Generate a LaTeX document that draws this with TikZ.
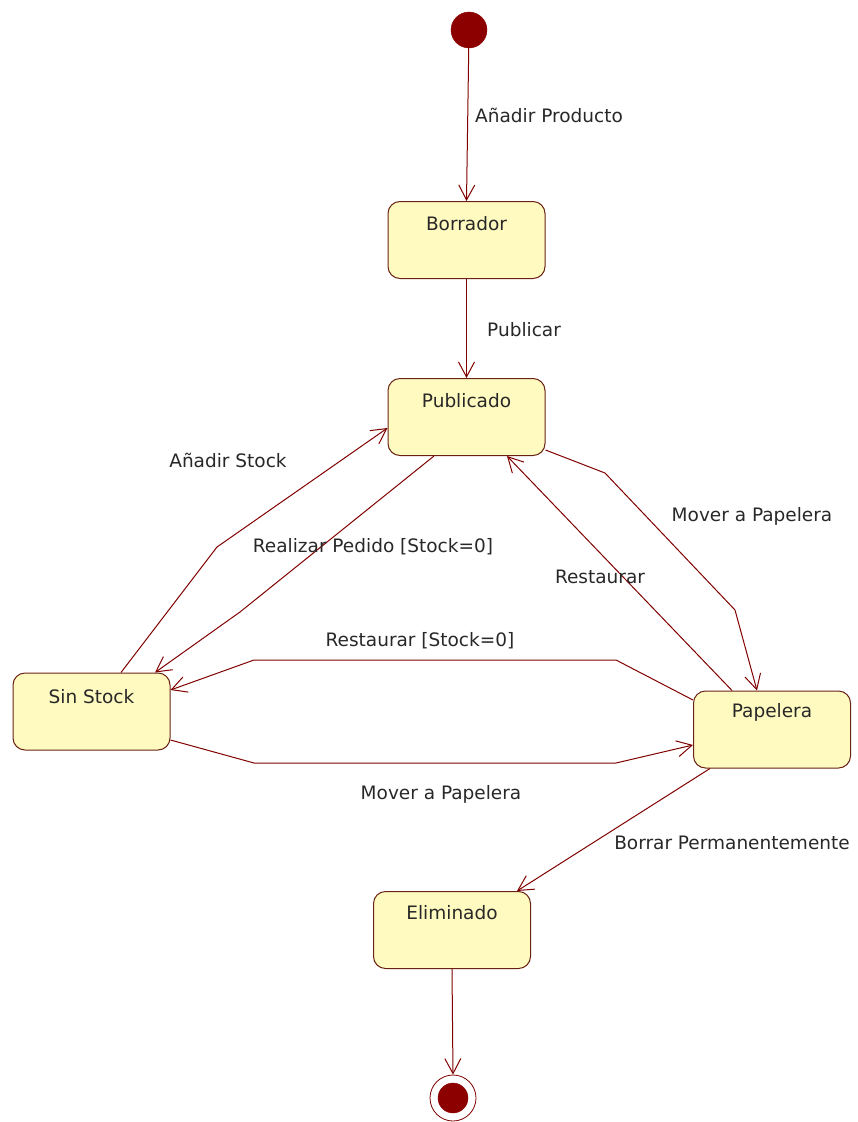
\documentclass[tikz,border=0pt]{standalone}
\usepackage{fontspec}
\setmainfont{DejaVu Sans}
\usetikzlibrary{arrows.meta}
\definecolor{edgecol}{RGB}{128,0,0}
\definecolor{boxline}{RGB}{105,35,20}
\definecolor{boxfill}{RGB}{255,250,192}
\definecolor{dotcol}{RGB}{140,0,0}
\definecolor{txtcol}{RGB}{40,40,40}
\tikzset{
  statebox/.style={draw=boxline, fill=boxfill, line width=1pt, rounded corners=12pt,
    minimum width=157pt, minimum height=77pt, inner sep=0pt},
  stxt/.style={text=txtcol, font=\fontsize{18.5}{22}\selectfont, inner sep=0pt},
  elabel/.style={text=txtcol, font=\fontsize{18.5}{22}\selectfont, inner sep=0pt},
  trans/.style={draw=edgecol, line width=1pt,
    -{Straight Barb[length=15pt,width=16pt,line width=1pt]}},
}
\begin{document}
\begin{tikzpicture}[x=1pt,y=-1pt]
\useasboundingbox (0,0) rectangle (858,1122);

% initial and final pseudo-states
\node[circle, fill=dotcol, draw=dotcol, minimum size=36pt, inner sep=0pt] (init) at (469,30) {};
\node[circle, draw=edgecol, line width=0.8pt, minimum size=46pt, inner sep=0pt] (fin) at (453,1098) {};
\node[circle, fill=dotcol, draw=dotcol, minimum size=30pt, inner sep=0pt] (finc) at (453,1098) {};

% states
\node[statebox, label={[stxt,anchor=center,yshift=-23pt]north:Borrador}] (borr) at (466.5,240) {};
\node[statebox, label={[stxt,anchor=center,yshift=-23pt]north:Publicado}] (pub) at (466.5,417) {};
\node[statebox, label={[stxt,anchor=center,yshift=-24pt]north:Sin Stock}] (sin) at (91.5,711.5) {};
\node[statebox, label={[stxt,anchor=center,yshift=-22pt]north:Papelera}] (pap) at (772,729.5) {};
\node[statebox, label={[stxt,anchor=center,yshift=-22pt]north:Eliminado}] (elim) at (452,930) {};

% waypoints
\coordinate (a1) at (217,547);
\coordinate (r1) at (240,612);
\coordinate (s1) at (616,660);
\coordinate (s2) at (254,660);
\coordinate (m1) at (254,763);
\coordinate (m2) at (616,763);
\coordinate (p1) at (605,473);
\coordinate (p2) at (735,610);

% transitions
\draw[trans] (init) -- (borr.north);
\draw[trans] (borr.south) -- (pub.north);
\draw[trans] ([xshift=29.5pt]sin.north) -- (a1) -- ([yshift=-11pt]pub.west);
\draw[trans] ([xshift=-32.5pt]pub.south) -- (r1) -- ([xshift=63.5pt]sin.north);
\draw[trans] ([yshift=29.5pt]pap.west) -- (s1) -- (s2) -- ([yshift=21.5pt]sin.east);
\draw[trans] ([yshift=-28.5pt]sin.east) -- (m1) -- (m2) -- ([yshift=-15.5pt]pap.west);
\draw[trans] ([yshift=-33pt]pub.east) -- (p1) -- (p2) -- ([xshift=-15pt]pap.north);
\draw[trans] ([xshift=-40pt]pap.north) -- ([xshift=40.5pt]pub.south);
\draw[trans] ([xshift=-62pt]pap.south) -- ([xshift=65pt]elim.north);
\draw[trans] (elim.south) -- (fin.north);

% labels
\node[elabel, anchor=west] (lprod) at (475,115) {Añadir Producto};
\node[elabel, anchor=west] (lpub) at (487,330) {Publicar};
\node[elabel] (lstock) at (228,460) {Añadir Stock};
\node[elabel] (lped) at (373,547) {Realizar Pedido [Stock=0]};
\node[elabel] (lres0) at (420,641) {Restaurar [Stock=0]};
\node[elabel] (lmov1) at (441,794) {Mover a Papelera};
\node[elabel] (lmov2) at (752,516) {Mover a Papelera};
\node[elabel] (lres) at (600,577) {Restaurar};
\node[elabel] (lbor) at (732,843) {Borrar Permanentemente};
\end{tikzpicture}
\end{document}
